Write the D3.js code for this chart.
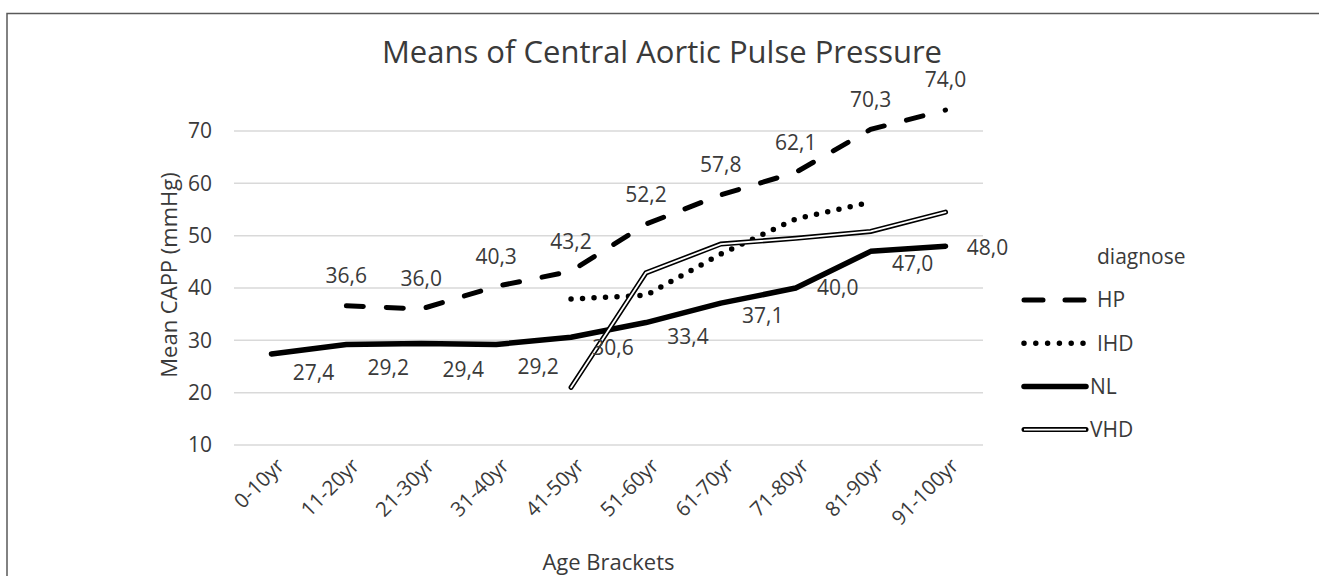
<!DOCTYPE html>
<html>
<head>
<meta charset="utf-8">
<script src="https://cdn.jsdelivr.net/npm/d3@7"></script>
<style>
  body { margin: 0; background: #fff; }
  text { font-family: "Open Sans", sans-serif; fill: #3a3a3a; }
</style>
</head>
<body>
<div id="chart"></div>
<script>
// data
var ageBrackets = ["0-10yr", "11-20yr", "21-30yr", "31-40yr", "41-50yr", "51-60yr", "61-70yr", "71-80yr", "81-90yr", "91-100yr"];
var hpValues  = [null, 36.6, 36.0, 40.3, 43.2, 52.2, 57.8, 62.1, 70.3, 74.0];
var ihdValues = [null, null, null, null, 37.9, 38.6, 46.5, 53.2, 56.4, null];
var nlValues  = [27.4, 29.2, 29.4, 29.2, 30.6, 33.4, 37.1, 40.0, 47.0, 48.0];
var vhdValues = [null, null, null, null, 21.0, 42.9, 48.4, 49.5, 50.8, 54.5];
var yTicks = [10, 20, 30, 40, 50, 60, 70];
var legendNames = ["HP", "IHD", "NL", "VHD"];

// vertical nudges of the NL labels (px, below the point)
var nlLabelDy = [19, 23, 26, 22, 10, 14, 12, 0, 12, 2];

var W = 1319, H = 576;
var plot = {left: 234, right: 983, top: 131, bottom: 445};

var svg = d3.select("#chart")
  .append("svg")
    .attr("width", W)
    .attr("height", H);

// chart frame
svg.append("rect")
  .attr("x", 7).attr("y", 13.5)
  .attr("width", W).attr("height", H)
  .attr("fill", "none")
  .attr("stroke", "#595959")
  .attr("stroke-width", 1.5);

var x = d3.scaleBand()
  .domain(ageBrackets)
  .range([plot.left, plot.right]);
var cx = function(c) { return x(c) + x.bandwidth() / 2; };

var y = d3.scaleLinear()
  .domain([10, 70])
  .range([plot.bottom, plot.top]);

// gridlines
svg.append("g")
  .selectAll("line")
  .data(yTicks)
  .enter()
  .append("line")
    .attr("x1", plot.left).attr("x2", plot.right)
    .attr("y1", function(d) { return y(d); })
    .attr("y2", function(d) { return y(d); })
    .attr("stroke", "#d9d9d9")
    .attr("stroke-width", 1.5);

// y axis labels
var yAxis = svg.append("g")
  .attr("transform", "translate(" + (plot.left - 10) + ",0)")
  .call(d3.axisLeft(y).tickValues(yTicks).tickSize(0).tickPadding(12));
yAxis.select(".domain").remove();
yAxis.selectAll("text")
  .attr("font-family", "Open Sans")
  .attr("font-size", "21px")
  .attr("fill", "#3a3a3a");

// x axis labels, rotated
var xAxis = svg.append("g")
  .attr("transform", "translate(0," + plot.bottom + ")")
  .call(d3.axisBottom(x).tickSize(0));
xAxis.select(".domain").remove();
xAxis.selectAll("text")
  .attr("font-family", "Open Sans")
  .attr("font-size", "20.5px")
  .attr("fill", "#3a3a3a")
  .attr("text-anchor", "end")
  .attr("transform", "translate(9,17) rotate(-45)")
  .attr("dy", "0.35em")
  .attr("y", 0);

// titles
svg.append("text")
  .attr("x", 662).attr("y", 63)
  .attr("text-anchor", "middle")
  .attr("font-size", "31px")
  .text("Means of Central Aortic Pulse Pressure");

svg.append("text")
  .attr("transform", "translate(177,275) rotate(-90)")
  .attr("text-anchor", "middle")
  .attr("font-size", "22px")
  .text("Mean CAPP (mmHg)");

svg.append("text")
  .attr("x", (plot.left + plot.right) / 2).attr("y", 570)
  .attr("text-anchor", "middle")
  .attr("font-size", "22px")
  .text("Age Brackets");

function pts(values) {
  return ageBrackets.map(function(c, i) { return {c: c, v: values[i], i: i}; })
    .filter(function(d) { return d.v != null; });
}

var line = d3.line()
  .x(function(d) { return cx(d.c); })
  .y(function(d) { return y(d.v); });

// HP - long dash
svg.append("path")
  .datum(pts(hpValues))
  .attr("d", line)
  .attr("fill", "none")
  .attr("stroke", "#000")
  .attr("stroke-width", 5)
  .attr("stroke-linecap", "round")
  .attr("stroke-dasharray", "17,23");

// IHD - round dots
svg.append("path")
  .datum(pts(ihdValues))
  .attr("d", line)
  .attr("fill", "none")
  .attr("stroke", "#000")
  .attr("stroke-width", 5.5)
  .attr("stroke-linecap", "round")
  .attr("stroke-dasharray", "0,11.5");

// NL - solid
svg.append("path")
  .datum(pts(nlValues))
  .attr("d", line)
  .attr("fill", "none")
  .attr("stroke", "#000")
  .attr("stroke-width", 5.5)
  .attr("stroke-linecap", "round")
  .attr("stroke-linejoin", "round");

// VHD - double line
svg.append("path")
  .datum(pts(vhdValues))
  .attr("d", line)
  .attr("fill", "none")
  .attr("stroke", "#000")
  .attr("stroke-width", 5)
  .attr("stroke-linecap", "round");
svg.append("path")
  .datum(pts(vhdValues))
  .attr("d", line)
  .attr("fill", "none")
  .attr("stroke", "#fff")
  .attr("stroke-width", 1.8)
  .attr("stroke-linecap", "round");

// data labels
var fmt = function(v) { return v.toFixed(1).replace(".", ","); };

svg.append("g")
  .selectAll("text")
  .data(pts(hpValues))
  .enter()
  .append("text")
    .attr("x", function(d) { return cx(d.c); })
    .attr("y", function(d) { return y(d.v) - 30; })
    .attr("dy", "0.35em")
    .attr("text-anchor", "middle")
    .attr("font-size", "21px")
    .text(function(d) { return fmt(d.v); });

svg.append("g")
  .selectAll("text")
  .data(pts(nlValues))
  .enter()
  .append("text")
    .attr("x", function(d) { return cx(d.c) + 42; })
    .attr("y", function(d) { return y(d.v) + nlLabelDy[d.i]; })
    .attr("dy", "0.35em")
    .attr("text-anchor", "middle")
    .attr("font-size", "21px")
    .text(function(d) { return fmt(d.v); });

// legend
var legend = svg.append("g");
legend.append("text")
  .attr("x", 1097).attr("y", 257)
  .attr("dy", "0.35em")
  .attr("font-size", "21px")
  .text("diagnose");

var styles = [
  {w: 5, dash: "19,22", cap: "round"},
  {w: 5.5, dash: "0,11.8", cap: "round"},
  {w: 5.5, dash: null, cap: "round"},
  {w: 5, dash: null, cap: "round", dbl: true}
];

legendNames.forEach(function(name, i) {
  var ly = 300 + i * 43.2;
  var s = styles[i];
  legend.append("line")
    .attr("x1", 1024).attr("x2", 1086)
    .attr("y1", ly).attr("y2", ly)
    .attr("stroke", "#000")
    .attr("stroke-width", s.w)
    .attr("stroke-linecap", s.cap)
    .attr("stroke-dasharray", s.dash);
  if (s.dbl) {
    legend.append("line")
      .attr("x1", 1024).attr("x2", 1086)
      .attr("y1", ly).attr("y2", ly)
      .attr("stroke", "#fff")
      .attr("stroke-width", 1.8);
  }
  legend.append("text")
    .attr("x", i < 2 ? 1097 : 1090)
    .attr("y", ly)
    .attr("dy", "0.35em")
    .attr("font-size", "21px")
    .text(name);
});
</script>
</body>
</html>
